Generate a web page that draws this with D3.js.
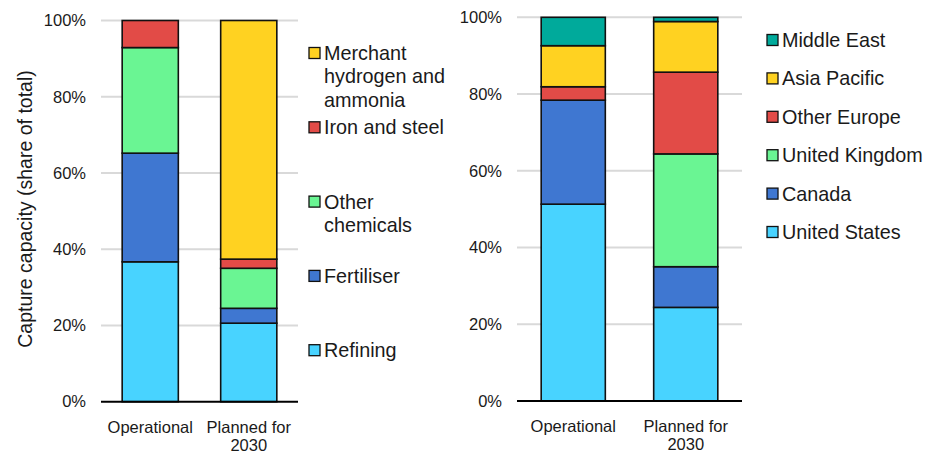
<!DOCTYPE html>
<html lang="en">
<head>
<meta charset="UTF-8">
<title>Capture capacity</title>
<style>
  body { margin: 0; background: #fff; }
  text { font-family: "Liberation Sans", Arial, sans-serif; fill: #1a1a1a; }
</style>
</head>
<body>
<svg id="chart" width="926" height="454"></svg>
<script src="https://cdn.jsdelivr.net/npm/d3@7"></script>
<script>
// data (share of total, %)
var categories = ["Operational", "Planned for 2030"];
var categoryLines = [["Operational"], ["Planned for", "2030"]];
var yTicks = [0, 20, 40, 60, 80, 100];

var sectors = ["Refining", "Fertiliser", "Other chemicals", "Iron and steel", "Merchant hydrogen and ammonia"];
var sectorLegendLines = [["Refining"], ["Fertiliser"], ["Other", "chemicals"], ["Iron and steel"], ["Merchant", "hydrogen and", "ammonia"]];
var sectorOperational = [36.7, 28.5, 27.7, 7.1, 0];
var sectorPlanned = [20.6, 3.9, 10.5, 2.4, 62.6];

var regions = ["United States", "Canada", "United Kingdom", "Other Europe", "Asia Pacific", "Middle East"];
var regionOperational = [51.3, 27.1, 0, 3.5, 10.7, 7.4];
var regionPlanned = [24.4, 10.6, 29.4, 21.3, 13.2, 1.1];

var sectorColors = ["#48d3ff", "#3f77d1", "#6af593", "#e24b47", "#ffd221"];
var regionColors = ["#48d3ff", "#3f77d1", "#6af593", "#e24b47", "#ffd221", "#00aa9b"];

var svg = d3.select("#chart");

function buildRows(keys, op, pl) {
    return categories.map(function (c, i) {
        var row = {category: c};
        keys.forEach(function (k, j) { row[k] = (i == 0 ? op : pl)[j]; });
        return row;
    });
}

function drawPanel(opts) {
    var g = svg.append("g");
    var x = d3.scaleBand().domain(categories).range([opts.x0, opts.x1]).paddingInner(0.43).paddingOuter(0.215);
    var y = d3.scaleLinear().domain([0, 100]).range([opts.yBottom, opts.yTop]);

    // gridlines
    g.selectAll(".grid").data(yTicks.slice(1)).enter().append("line")
        .attr("x1", opts.x0).attr("x2", opts.x1)
        .attr("y1", function (d) { return y(d); })
        .attr("y2", function (d) { return y(d); })
        .attr("stroke", "#d9d9d9").attr("stroke-width", 2);

    // y tick labels
    g.selectAll(".ytick").data(yTicks).enter().append("text")
        .attr("x", opts.x0 - 15)
        .attr("y", function (d) { return y(d); })
        .attr("dy", "0.35em")
        .attr("text-anchor", "end")
        .style("font-size", "16.5px")
        .text(function (d) { return d + "%"; });

    var rows = buildRows(opts.keys, opts.op, opts.pl);
    var series = d3.stack().keys(opts.keys)(rows);
    var color = d3.scaleOrdinal().domain(opts.keys).range(opts.colors);

    g.selectAll(".series").data(series).enter().append("g")
        .attr("fill", function (d) { return color(d.key); })
        .selectAll("rect").data(function (d) { return d.filter(function (p) { return p[1] - p[0] > 0; }); })
        .enter().append("rect")
        .attr("x", function (d) { return x(d.data.category); })
        .attr("width", x.bandwidth())
        .attr("y", function (d) { return y(d[1]); })
        .attr("height", function (d) { return y(d[0]) - y(d[1]); })
        .attr("stroke", "#111").attr("stroke-width", 1.6);

    // baseline
    g.append("line")
        .attr("x1", opts.x0).attr("x2", opts.x1)
        .attr("y1", y(0)).attr("y2", y(0))
        .attr("stroke", "#000").attr("stroke-width", 2);

    // x labels
    categories.forEach(function (c, i) {
        var t = g.append("text")
            .attr("x", x(c) + x.bandwidth() / 2)
            .attr("y", opts.yBottom + 31)
            .attr("text-anchor", "middle")
            .style("font-size", "16.5px");
        categoryLines[i].forEach(function (line, k) {
            t.append("tspan").attr("x", x(c) + x.bandwidth() / 2).attr("dy", k == 0 ? 0 : 18).text(line);
        });
    });

    // legend, top item first
    var lg = g.append("g");
    var keysTopDown = opts.keys.slice().reverse();
    keysTopDown.forEach(function (k, i) {
        var idx = opts.keys.indexOf(k);
        var cy = opts.legendY0 + i * opts.legendStep;
        lg.append("rect")
            .attr("x", opts.legendX).attr("y", cy - 5.5)
            .attr("width", 11).attr("height", 11)
            .attr("fill", color(k)).attr("stroke", "#111").attr("stroke-width", 1.3);
        var lines = opts.legendLines ? opts.legendLines[idx] : [k];
        var t = lg.append("text")
            .attr("x", opts.legendX + 15)
            .attr("y", cy)
            .style("font-size", "19.8px");
        lines.forEach(function (line, n) {
            t.append("tspan").attr("x", opts.legendX + 15).attr("dy", n == 0 ? "0.35em" : 23.5).text(line);
        });
    });
}

drawPanel({
    x0: 101, x1: 298, yTop: 20.5, yBottom: 401.7,
    keys: sectors, op: sectorOperational, pl: sectorPlanned, colors: sectorColors,
    legendLines: sectorLegendLines, legendX: 309, legendY0: 53, legendStep: 74.3
});

drawPanel({
    x0: 517, x1: 742, yTop: 17.3, yBottom: 401,
    keys: regions, op: regionOperational, pl: regionPlanned, colors: regionColors,
    legendX: 767, legendY0: 40, legendStep: 38.4
});

// y-axis title
svg.append("text")
    .attr("transform", "translate(25,209) rotate(-90)")
    .attr("text-anchor", "middle")
    .attr("dy", "0.35em")
    .style("font-size", "19.5px")
    .text("Capture capacity (share of total)");
</script>
</body>
</html>
